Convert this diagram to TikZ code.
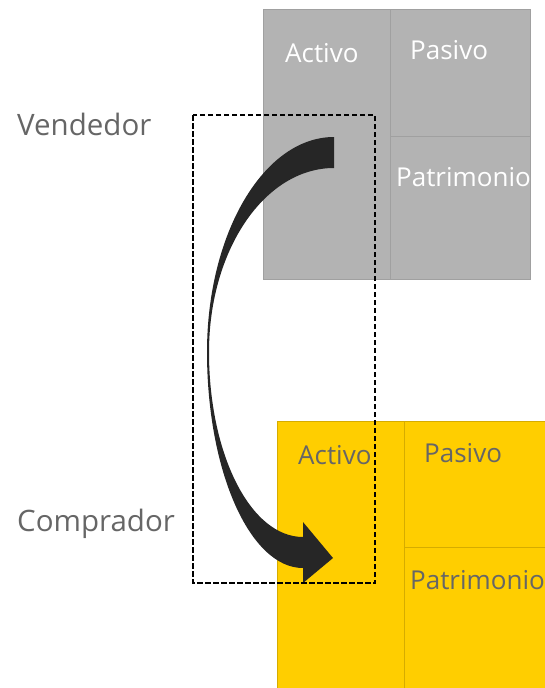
\documentclass[tikz,border=0pt]{standalone}
\usepackage{fontspec}
\setmainfont{Open Sans}
\definecolor{boxgray}{RGB}{179,179,179}
\definecolor{boxgrayline}{RGB}{160,160,160}
\definecolor{boxyellow}{RGB}{255,206,0}
\definecolor{boxyellowline}{RGB}{214,172,0}
\definecolor{labelgray}{RGB}{102,102,102}
\definecolor{arrowdark}{RGB}{38,38,38}
\begin{document}
\begin{tikzpicture}[x=1pt,y=-1pt,
  graybox/.style={draw=boxgrayline,fill=boxgray,line width=0.8pt},
  yellowbox/.style={draw=boxyellowline,fill=boxyellow,line width=0.8pt},
  boxlabel/.style={anchor=base west,inner sep=0pt,font=\fontsize{26}{29}\selectfont},
  sidelabel/.style={anchor=base west,inner sep=0pt,text=labelgray,font=\fontsize{29.5}{32}\selectfont},
  dashbox/.style={draw=black,line width=2pt,dash pattern=on 5.5pt off 2.5pt},
  bigarrow/.style={fill=arrowdark}]
\useasboundingbox (0,0) rectangle (545,688);
% seller blocks
\draw[graybox] (263,9) rectangle (403,279);
\draw[graybox] (390,9) rectangle (530,136);
\draw[graybox] (390,136) rectangle (530,279);
% buyer blocks
\draw[yellowbox] (277,421) rectangle (404,688);
\draw[yellowbox] (404,421) rectangle (545,547);
\draw[yellowbox] (404,547) rectangle (545,688);
% labels
\node[sidelabel] (vend) at (17,135) {Vendedor};
\node[sidelabel] (comp) at (17,531) {Comprador};
\node[boxlabel,text=white] (ga) at (285,62) {Activo};
\node[boxlabel,text=white] (gp) at (410,59) {Pasivo};
\node[boxlabel,text=white] (gpat) at (396,186) {Patrimonio};
\node[boxlabel,text=labelgray] (ya) at (298,464) {Activo};
\node[boxlabel,text=labelgray] (yp) at (424,462) {Pasivo};
\node[boxlabel,text=labelgray] (ypat) at (410,589) {Patrimonio};
% curved arrow
\fill[bigarrow] (334,137) .. controls (263.9,137) and (207,233.3) .. (207,352)
  .. controls (207,471.3) and (250,568) .. (303,568)
  -- (303,583) -- (333,558) -- (303,522) -- (303,537)
  .. controls (250.5,537) and (209,454.2) .. (209,352)
  .. controls (209,250.4) and (264.4,168) .. (334,168) -- cycle;
% dashed frame
\draw[dashbox] (193,115) rectangle (375,583);
\end{tikzpicture}
\end{document}
